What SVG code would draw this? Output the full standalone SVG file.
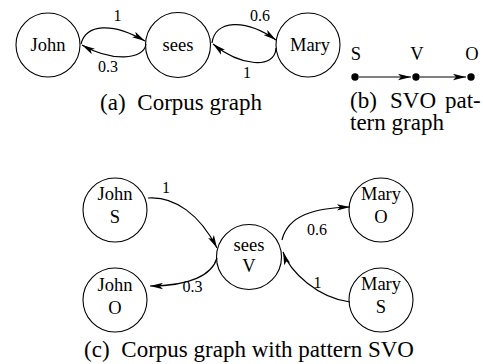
<svg xmlns="http://www.w3.org/2000/svg" width="483" height="364" viewBox="0 0 483 364">
<defs>
<style>
.node circle{fill:#fff;stroke:#000;stroke-width:1.1}
text{font-family:'Liberation Serif','Times New Roman','DejaVu Serif',serif;fill:#000}
.nl{font-size:18.5px;text-anchor:middle}
.el{font-size:16px;text-anchor:middle}
.cap{font-size:23px}
.edge{fill:none;stroke:#000;stroke-width:1.2;marker-end:url(#ah)}
.dot{fill:#000}
</style>
<marker id="ah" viewBox="0 0 13 7" refX="13" refY="3.5" markerWidth="13" markerHeight="7" markerUnits="userSpaceOnUse" orient="auto">
<path d="M0,0.3 L13,3.5 L0,6.7 L3,3.5 z" fill="#000"/>
</marker>
</defs>
<rect width="483" height="364" fill="#fff"/>

<!-- (a) corpus graph -->
<g id="a-john" class="node"><circle cx="48" cy="45" r="32"/><text class="nl" x="48" y="51">John</text></g>
<g id="a-sees" class="node"><circle cx="178" cy="45" r="32.5"/><text class="nl" x="178" y="51">sees</text></g>
<g id="a-mary" class="node"><circle cx="308" cy="45" r="32"/><text class="nl" x="310" y="51">Mary</text></g>

<!-- (b) pattern graph -->
<g id="b-s"><circle class="dot" cx="355" cy="77" r="3.7"/><text class="nl" x="356" y="60">S</text></g>
<g id="b-v"><circle class="dot" cx="416" cy="77" r="3.7"/><text class="nl" x="417" y="60">V</text></g>
<g id="b-o"><circle class="dot" cx="471" cy="77" r="3.7"/><text class="nl" x="472" y="60">O</text></g>

<!-- (c) corpus graph with pattern -->
<g id="c-johnS" class="node"><circle cx="115" cy="210" r="32"/><text class="nl" x="115" y="200">John</text><text class="nl" x="115" y="223">S</text></g>
<g id="c-johnO" class="node"><circle cx="115" cy="300" r="32"/><text class="nl" x="115" y="291">John</text><text class="nl" x="115" y="314">O</text></g>
<g id="c-seesV" class="node"><circle cx="249" cy="257" r="32.5"/><text class="nl" x="249" y="251">sees</text><text class="nl" x="249" y="272">V</text></g>
<g id="c-maryO" class="node"><circle cx="381" cy="210" r="32"/><text class="nl" x="381" y="200">Mary</text><text class="nl" x="381" y="223">O</text></g>
<g id="c-maryS" class="node"><circle cx="381" cy="300" r="32"/><text class="nl" x="381" y="290">Mary</text><text class="nl" x="381" y="313">S</text></g>

<g id="connectors">
<path class="edge" d="M81,44 C86,24 112,22 145,41"/>
<path class="edge" d="M146,44 C144,60 112,62 82,45"/>
<path class="edge" d="M212,43 C215,20 245,18 276,40"/>
<path class="edge" d="M276,48 C275,70 240,66 213,44"/>
<path class="edge" d="M359,77 L411,77"/>
<path class="edge" d="M420,77 L466,77"/>
<path class="edge" d="M148,198 C175,196 200,215 217,248"/>
<path class="edge" d="M217,258 C212,275 190,286 150,286"/>
<path class="edge" d="M282,240 C288,215 315,208 350,207"/>
<path class="edge" d="M350,302 C318,298 290,272 283,252"/>
</g>

<g id="edge-labels">
<text class="el" x="117.5" y="21">1</text>
<text class="el" x="108" y="72">0.3</text>
<text class="el" x="260" y="21">0.6</text>
<text class="el" x="247" y="78">1</text>
<text class="el" x="166" y="193">1</text>
<text class="el" x="192.5" y="292">0.3</text>
<text class="el" x="317" y="235">0.6</text>
<text class="el" x="317.5" y="288">1</text>
</g>

<g id="captions">
<text class="cap" x="181" y="110" text-anchor="middle">(a)<tspan dx="6"> Corpus graph</tspan></text>
<text class="cap"><tspan x="350" y="108">(b)</tspan><tspan x="390" y="108">SVO</tspan><tspan x="445" y="108">pat-</tspan><tspan x="350" y="130">tern graph</tspan></text>
<text class="cap" x="249" y="357" text-anchor="middle">(c)<tspan dx="6"> Corpus graph with pattern SVO</tspan></text>
</g>
</svg>
